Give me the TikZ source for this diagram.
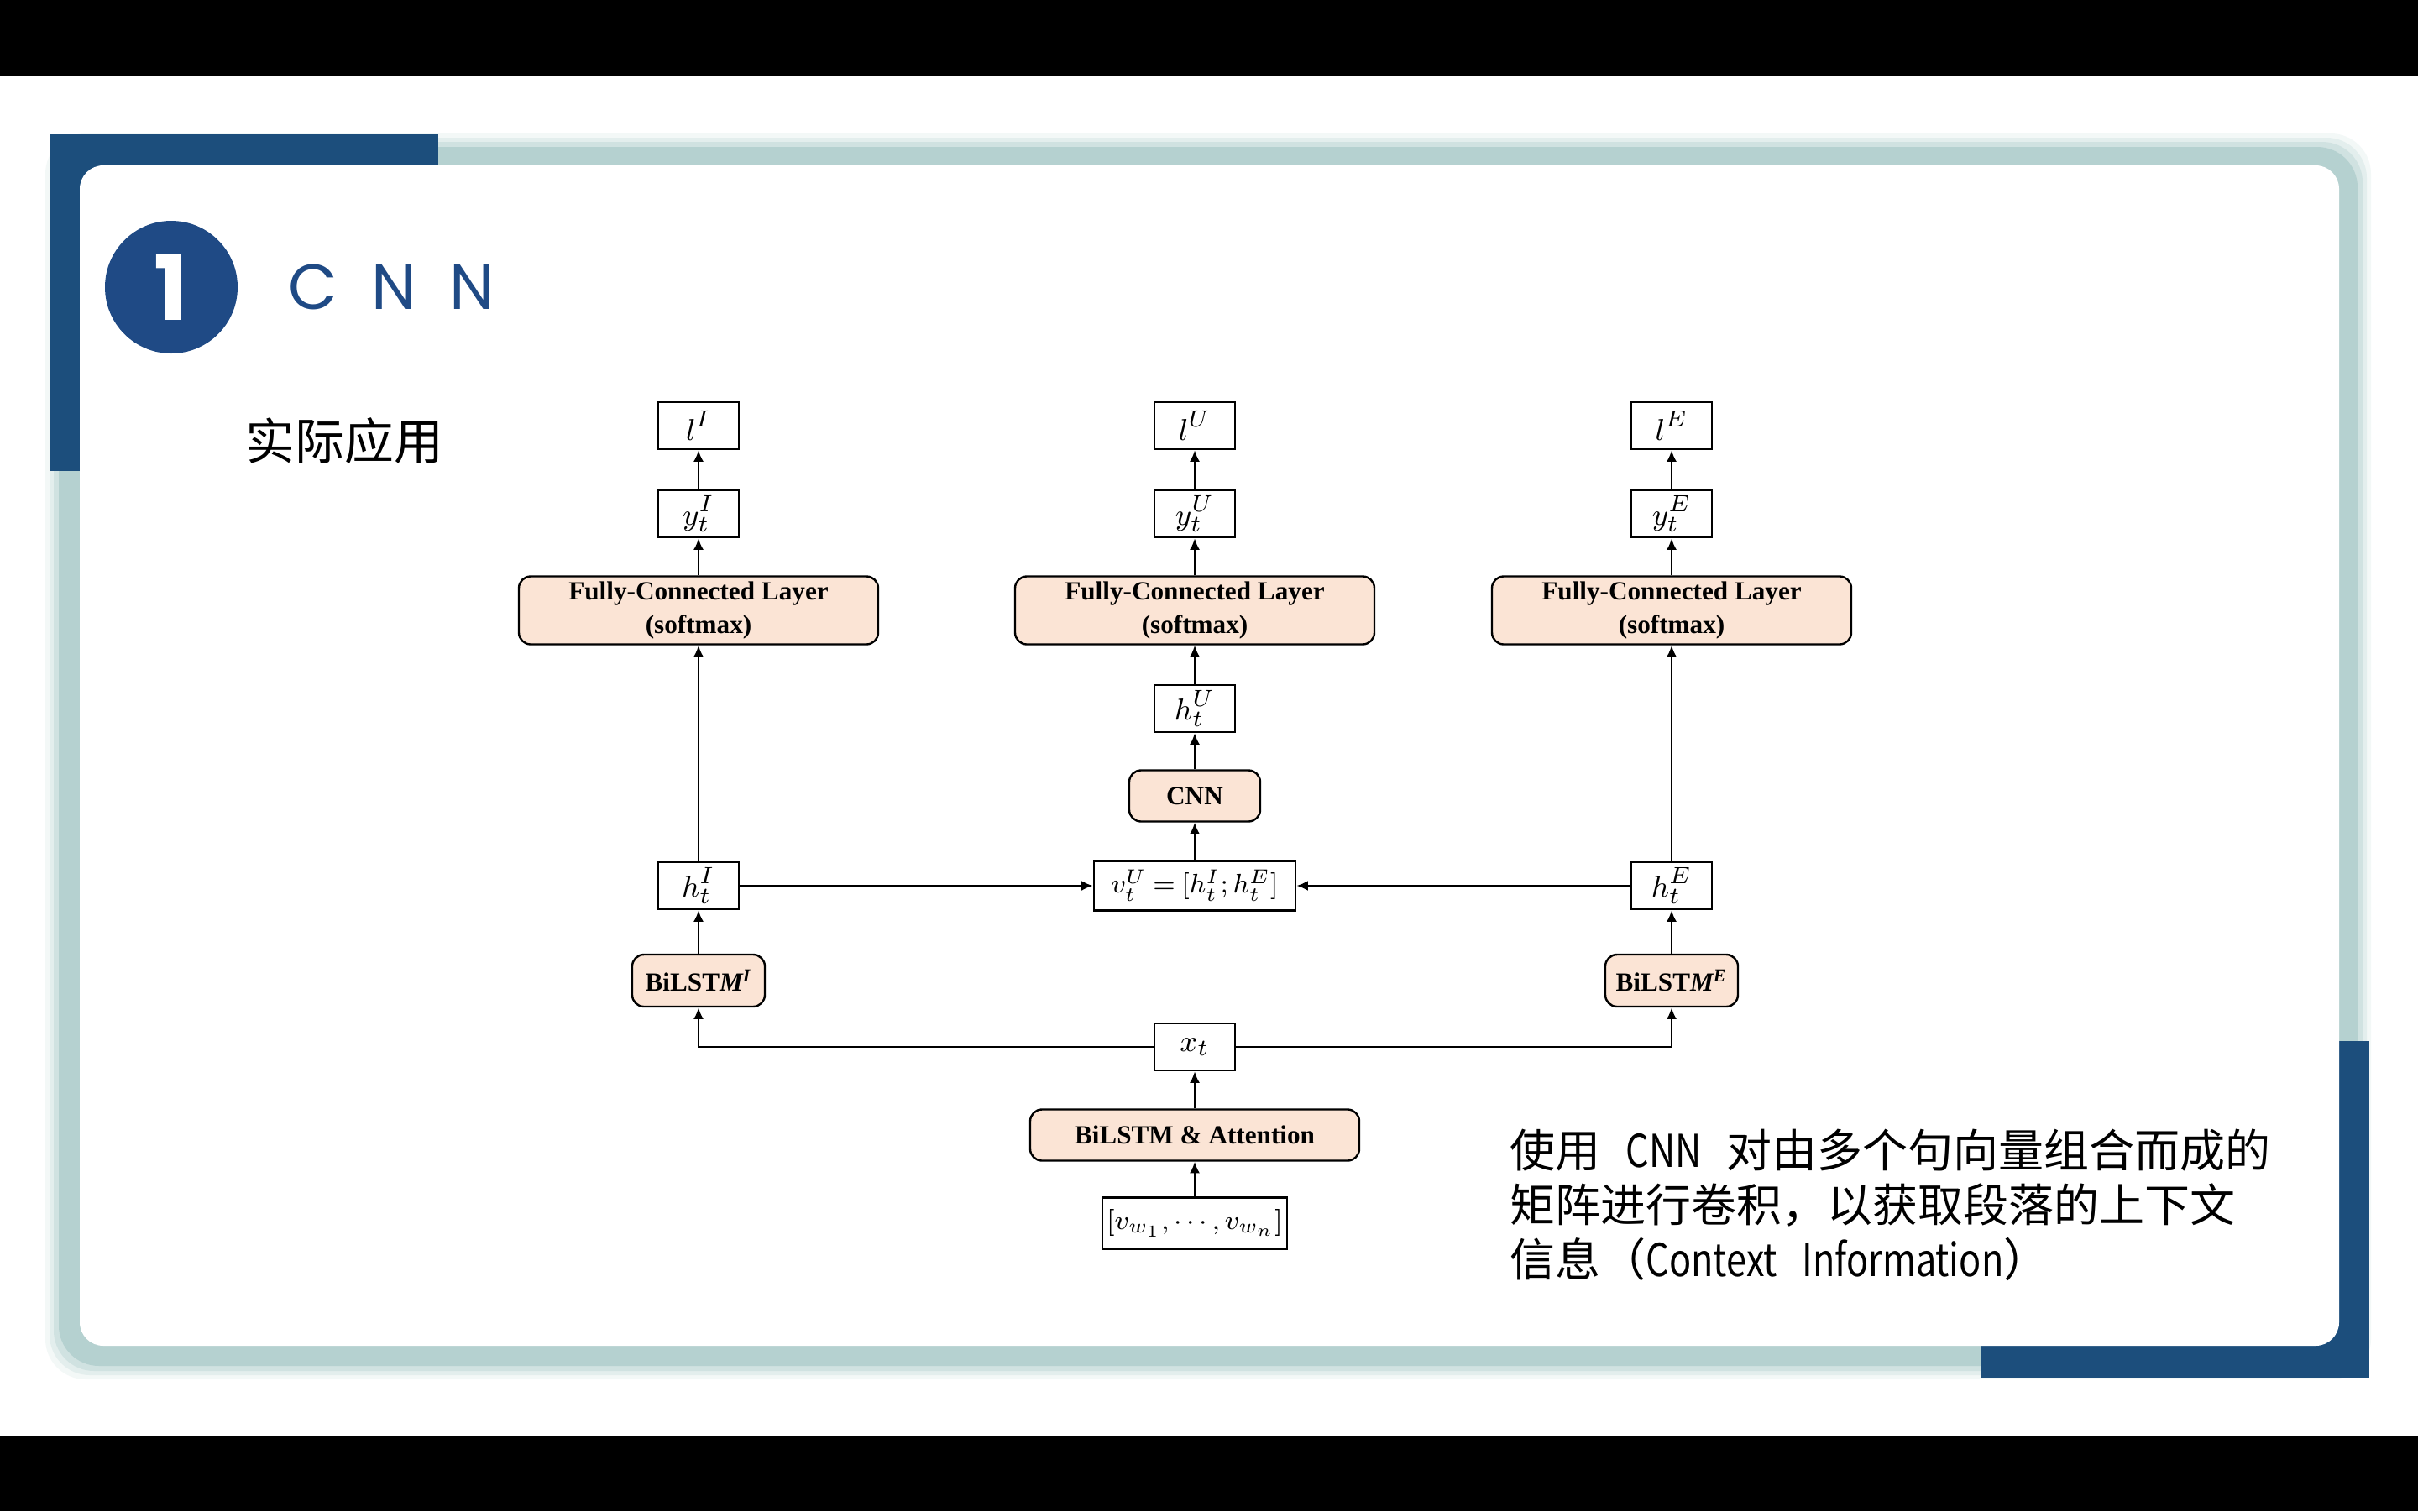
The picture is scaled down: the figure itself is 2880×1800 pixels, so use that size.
\documentclass[tikz,border=0pt]{standalone}
\usepackage{fontspec}
\setmainfont{Liberation Serif}
\newfontfamily\cjk{Noto Sans CJK SC}
\newfontfamily\cjkn[FakeStretch=0.8]{Noto Sans CJK SC}
\newfontfamily\popf{Poppins}
\usetikzlibrary{arrows.meta}
\definecolor{navy}{HTML}{1F4A85}
\definecolor{navyb}{HTML}{1C4E7C}
\definecolor{tealsh}{HTML}{B5D1D0}
\definecolor{peach}{HTML}{FBE4D5}
\begin{document}
\begin{tikzpicture}[x=0.25pt,y=-0.25pt,
  box/.style={draw=black, line width=0.6pt, fill=white, inner sep=0pt,
    minimum width=24pt, minimum height=14pt, font=\fontsize{9.5}{11}\selectfont},
  layer/.style={draw=black, line width=0.6pt, fill=peach, rounded corners=3.5pt,
    inner sep=0pt, align=center, font=\fontsize{7.8}{10}\selectfont\bfseries},
  arr/.style={-{Latex[length=3.4pt,width=3pt]}, line width=0.6pt},
  harr/.style={-{Latex[length=3.4pt,width=3pt]}, line width=0.75pt}]
% page
\fill[white] (0,0) rectangle (2880,1800);
\fill[black] (0,0) rectangle (2880,90);
\fill[black] (0,1710) rectangle (2880,1800);
% teal shadow frame (soft edge)
\foreach \d/\o in {16/0.15,11/0.25,6/0.4,0/1}{
  \fill[tealsh, opacity=\o, rounded corners=12pt]
    (70-\d,175-\d) rectangle (2808+\d,1627+\d);
}
% blue corner blocks
\fill[navyb] (59,160) rectangle (522,561);
\fill[navyb] (2359,1240) rectangle (2822,1641);
% white card
\fill[white, rounded corners=7pt] (95,197) rectangle (2786,1603);
% title
\node[circle, fill=navy, minimum size=39.5pt, inner sep=0pt] (num) at (204,342)
  {\color{white}\popf\bfseries\fontsize{27}{27}\selectfont 1};
\node[anchor=west, inner sep=0pt, text=navy, font=\popf\fontsize{19}{19}\selectfont] (title) at (343,342)
  {C\hspace{10pt}N\hspace{10pt}N};
\node[anchor=west, inner sep=0pt, font=\cjk\fontsize{14.7}{16}\selectfont] (app) at (292,525) {实际应用};
\node[anchor=north west, inner sep=0pt, align=left,
  font=\cjk\fontsize{13.5}{16.3}\selectfont] (desc) at (1798,1344)
  {使用\hspace{0.55em}{\cjkn CNN}\hspace{0.55em}对由多个句向量组合而成的\\矩阵进行卷积，以获取段落的上下文\\信息（{\cjkn Context\hspace{0.55em}Information}）};
% ---- diagram ----
% left column
\node[box] (lI) at (832,507) {$l^I$};
\node[box] (yI) at (832,612) {$y_t^I$};
\node[layer, minimum width=107pt, minimum height=20.25pt] (fcI) at (832,727) {Fully-Connected Layer\\(softmax)};
\node[box] (hI) at (832,1055) {$h_t^I$};
\node[layer, minimum width=39.5pt, minimum height=15.5pt] (bI) at (832,1168) {BiLST\textit{M\textsuperscript{I}}};
% middle column
\node[box] (lU) at (1423,507) {$l^U$};
\node[box] (yU) at (1423,612) {$y_t^U$};
\node[layer, minimum width=107pt, minimum height=20.25pt] (fcU) at (1423,727) {Fully-Connected Layer\\(softmax)};
\node[box] (hU) at (1423,844) {$h_t^U$};
\node[layer, minimum width=39pt, minimum height=15.25pt] (cnn) at (1423,948) {CNN};
\node[box, minimum width=60pt, minimum height=14.75pt, font=\fontsize{8.2}{10}\selectfont] (v) at (1423,1055) {$v_t^U\mkern-1mu=\mkern-1mu[h_t^I;h_t^E]$};
\node[box] (xt) at (1423,1247) {$x_t$};
\node[layer, minimum width=98pt, minimum height=15.25pt] (att) at (1423,1352) {BiLSTM \& Attention};
\node[box, minimum width=55pt, minimum height=15.25pt, font=\fontsize{8.2}{10}\selectfont] (vw) at (1423,1457) {$[v_{w_1},\cdots,v_{w_n}]$};
% right column
\node[box] (lE) at (1991,507) {$l^E$};
\node[box] (yE) at (1991,612) {$y_t^E$};
\node[layer, minimum width=107pt, minimum height=20.25pt] (fcE) at (1991,727) {Fully-Connected Layer\\(softmax)};
\node[box] (hE) at (1991,1055) {$h_t^E$};
\node[layer, minimum width=39.5pt, minimum height=15.5pt] (bE) at (1991,1168) {BiLST\textit{M\textsuperscript{E}}};
% connectors
\draw[arr] (vw) -- (att);
\draw[arr] (att) -- (xt);
\draw[arr] (xt) -| (bI);
\draw[arr] (xt) -| (bE);
\draw[arr] (bI) -- (hI);
\draw[arr] (bE) -- (hE);
\draw[harr] (hI) -- (v);
\draw[harr] (hE) -- (v);
\draw[arr] (hI) -- (fcI);
\draw[arr] (hE) -- (fcE);
\draw[arr] (v) -- (cnn);
\draw[arr] (cnn) -- (hU);
\draw[arr] (hU) -- (fcU);
\draw[arr] (fcI) -- (yI);
\draw[arr] (yI) -- (lI);
\draw[arr] (fcU) -- (yU);
\draw[arr] (yU) -- (lU);
\draw[arr] (fcE) -- (yE);
\draw[arr] (yE) -- (lE);
\end{tikzpicture}
\end{document}
